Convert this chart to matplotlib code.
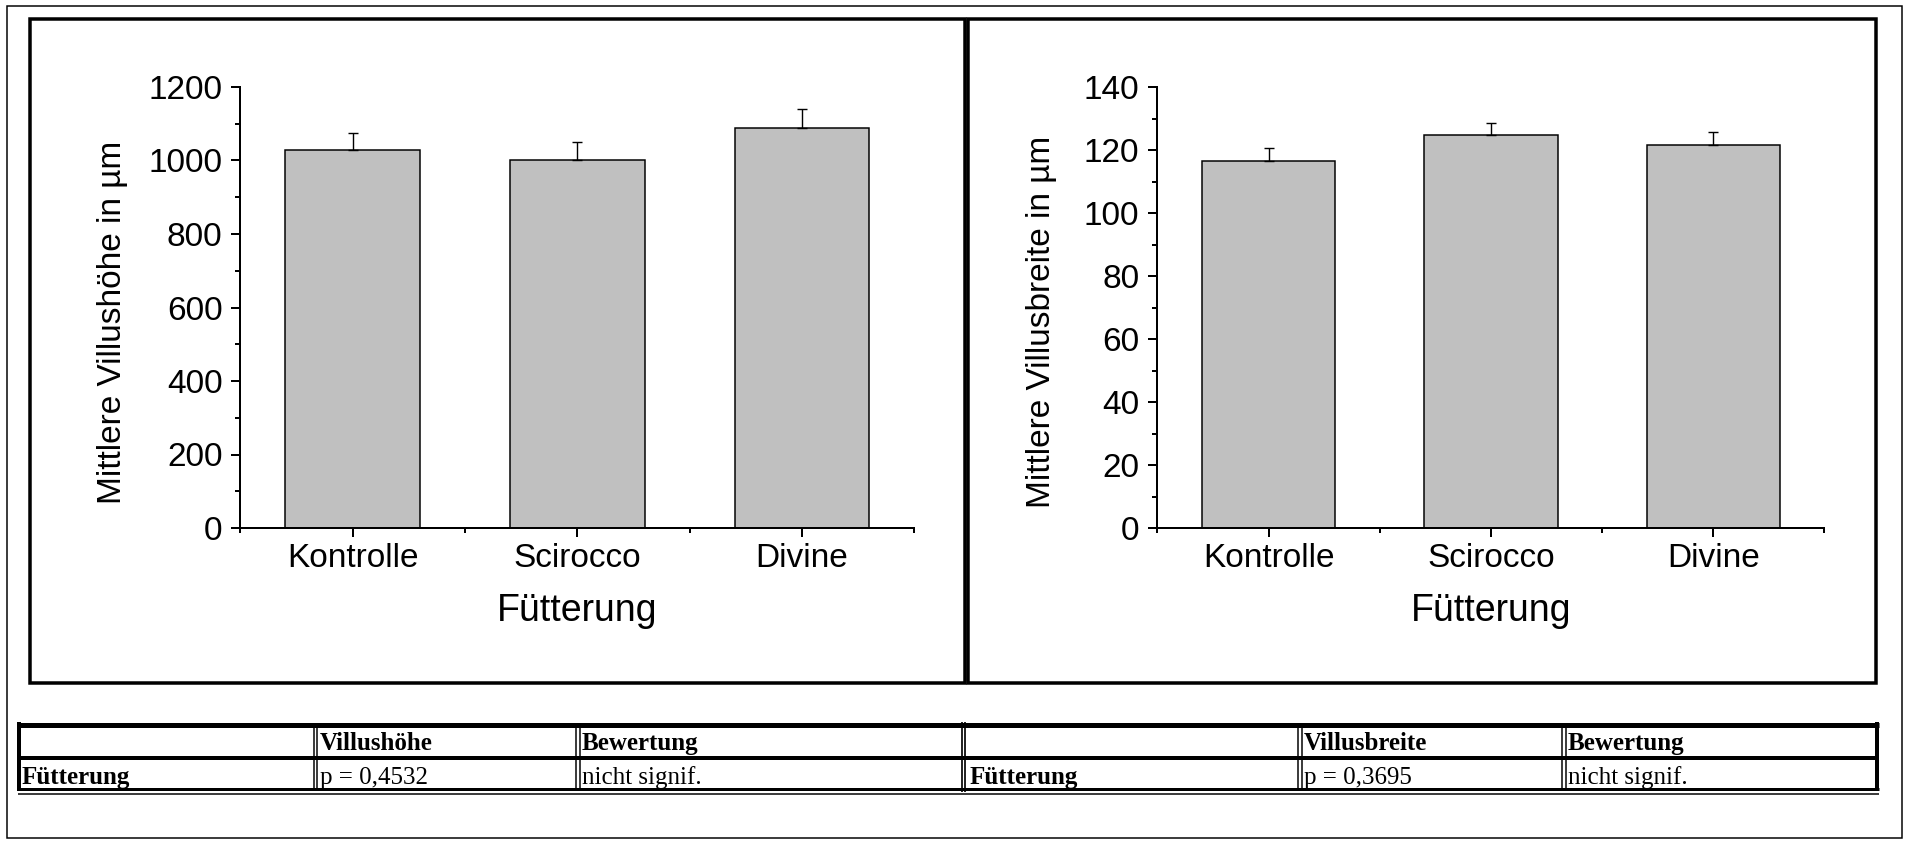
import numpy as np
import matplotlib.pyplot as plt
from matplotlib.patches import Rectangle
from matplotlib.ticker import MultipleLocator, FixedLocator

plt.rcParams['font.family'] = ['Liberation Sans', 'DejaVu Sans']

W, H, DPI = 1908, 843, 100

gruppen = ["Kontrolle", "Scirocco", "Divine"]
hoehe_mittel = [1028, 1001, 1089]
hoehe_fehler = [48, 48, 50]
breite_mittel = [116.6, 124.8, 121.6]
breite_fehler = [4.0, 3.9, 4.1]

tab_links_kopf = ["", "Villushöhe", "Bewertung"]
tab_links_zeile = ["Fütterung", "p = 0,4532", "nicht signif."]
tab_rechts_kopf = ["", "Villusbreite", "Bewertung"]
tab_rechts_zeile = ["Fütterung", "p = 0,3695", "nicht signif."]


def px(n):
    # pixel -> points
    return n * 72 / DPI


fig = plt.figure(figsize=(W / DPI, H / DPI), dpi=DPI)

# background axes in pixel coordinates for frames and the table
bg = fig.add_axes([0, 0, 1, 1], zorder=0)
bg.set_xlim(0, W)
bg.set_ylim(H, 0)
bg.axis('off')

bg.add_patch(Rectangle((7, 6), 1895, 832, fill=False, edgecolor='black', lw=px(1.5)))
bg.add_patch(Rectangle((30, 19), 935.5, 664, fill=False, edgecolor='black', lw=px(3.5)))
bg.add_patch(Rectangle((968.5, 19), 907.5, 664, fill=False, edgecolor='black', lw=px(3.5)))


def balken(rect, mittel, fehler, ymax, major, ylabel, label_x):
    ax = fig.add_axes(rect, zorder=2)
    ax.patch.set_alpha(0)
    x = np.arange(1, len(gruppen) + 1)
    ax.bar(x, mittel, width=0.6, color='#c0c0c0', edgecolor='black',
           linewidth=px(1.5), zorder=2)
    ax.errorbar(x, mittel, yerr=[np.zeros(len(fehler)), fehler], fmt='none',
                ecolor='black', elinewidth=px(1.4), capsize=px(5),
                capthick=px(1.4), zorder=3)

    ax.set_xlim(0.5, 3.5)
    ax.set_ylim(0, ymax)
    ax.set_xticks(x)
    ax.set_xticklabels(gruppen)
    ax.xaxis.set_minor_locator(FixedLocator([0.5, 1.5, 2.5, 3.5]))
    ax.yaxis.set_major_locator(MultipleLocator(major))
    ax.yaxis.set_minor_locator(MultipleLocator(major / 2))

    for s in ['top', 'right']:
        ax.spines[s].set_visible(False)
    for s in ['left', 'bottom']:
        ax.spines[s].set_linewidth(px(2))

    ax.tick_params(which='major', length=px(9), width=px(2), labelsize=24, direction='out')
    ax.tick_params(which='minor', length=px(5), width=px(2))
    ax.tick_params(axis='y', pad=px(9))
    ax.tick_params(axis='x', pad=px(6))

    ax.set_xlabel("Fütterung", fontsize=27)
    ax.xaxis.set_label_coords(0.5, -0.147)
    ax.set_ylabel(ylabel, fontsize=24)
    ax.yaxis.set_label_coords(label_x, 0.467)
    return ax


ax_b = (843 - 528) / H
ax_h = 441 / H
balken([240.4 / W, ax_b, 674 / W, ax_h], hoehe_mittel, hoehe_fehler, 1200, 200,
       "Mittlere Villushöhe in µm", -0.167)
balken([1157.4 / W, ax_b, 667 / W, ax_h], breite_mittel, breite_fehler, 140, 20,
       "Mittlere Villusbreite in µm", -0.151)

# table below the plots
tx0, tx1 = 18, 1879
for y, lw in [(724.5, 5), (758, 4), (789, 3), (793.5, 1.5)]:
    bg.plot([tx0, tx1], [y, y], color='black', lw=px(lw), solid_capstyle='butt')
for x in [19.5, 1877.5]:
    bg.plot([x, x], [722, 791], color='black', lw=px(4), solid_capstyle='butt')
for x in [315.5, 578, 1300, 1564]:
    for dx in (-1.6, 1.6):
        bg.plot([x + dx, x + dx], [726, 789], color='black', lw=px(1.5),
                solid_capstyle='butt')
for x in [962.5, 965.5]:
    bg.plot([x, x], [722, 792], color='black', lw=px(1.7), solid_capstyle='butt')


def tabelle(spalten_x, kopf, zeile):
    for i, (x, k, z) in enumerate(zip(spalten_x, kopf, zeile)):
        bg.text(x, 750, k, fontsize=18, fontweight='bold', va='baseline',
                family=['Liberation Serif', 'DejaVu Serif'])
        bg.text(x, 784, z, fontsize=18, fontweight='bold' if i == 0 else 'normal',
                va='baseline', family=['Liberation Serif', 'DejaVu Serif'])


tabelle([22, 320, 582], tab_links_kopf, tab_links_zeile)
tabelle([970, 1304, 1568], tab_rechts_kopf, tab_rechts_zeile)

fig.savefig("out.png", dpi=DPI)
